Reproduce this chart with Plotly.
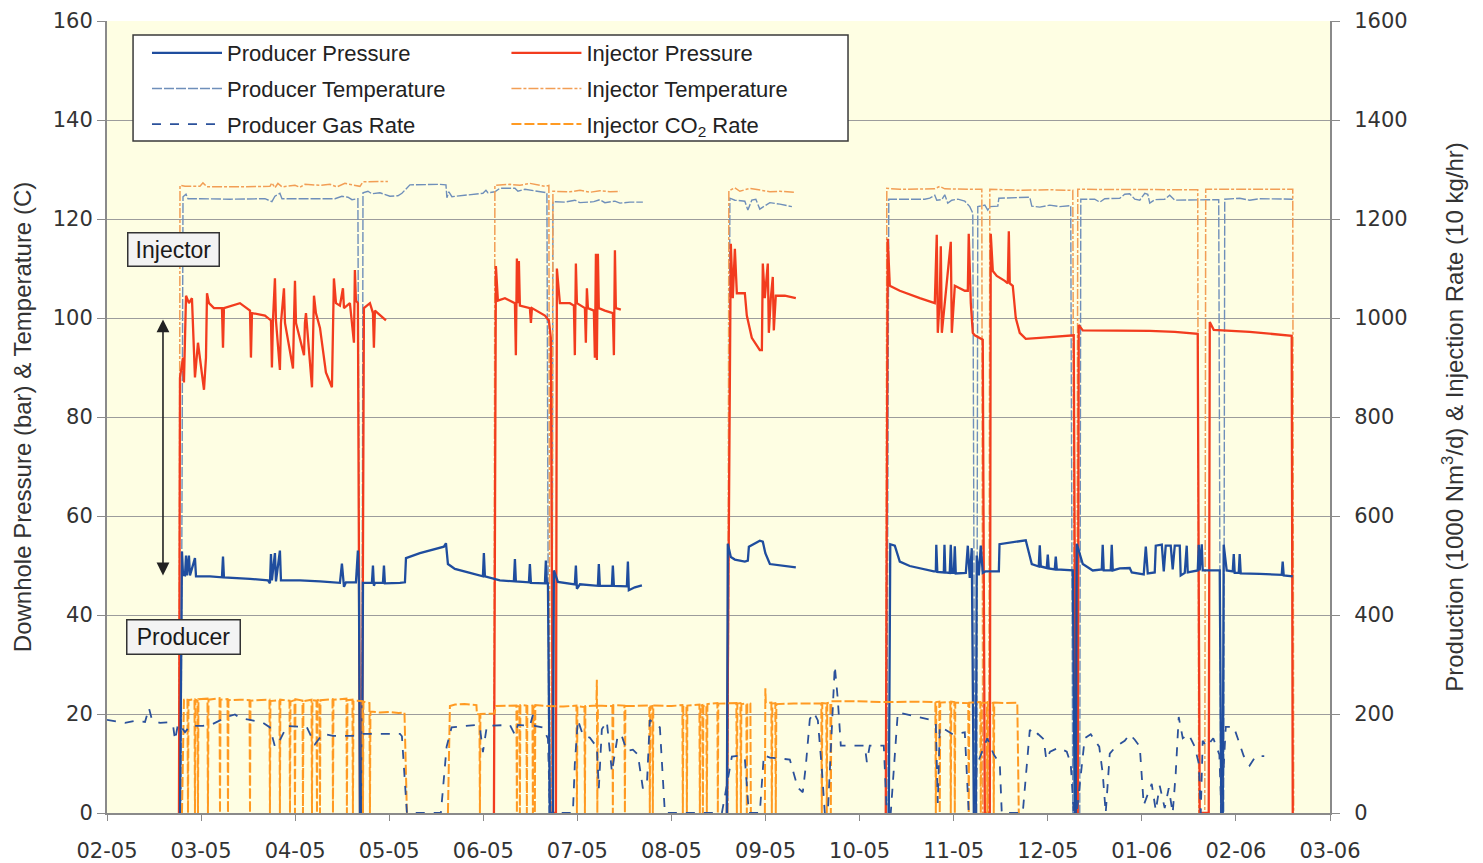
import plotly.graph_objects as go

# ---------------- axis labels ----------------
month_labels = ["02-05", "03-05", "04-05", "05-05", "06-05", "07-05", "08-05",
                "09-05", "10-05", "11-05", "12-05", "01-06", "02-06", "03-06"]
month_ticks = list(range(len(month_labels)))   # 0 = Feb 2005 (time in months)

# ---------------- Injector pressure (bar) ----------------
inj_p_t = [0.765, 0.776, 0.808, 0.818, 0.840, 0.871, 0.903, 0.935, 0.967, 0.999, 1.031, 1.052, 1.063, 1.084,
           1.137, 1.222, 1.233, 1.243, 1.413, 1.520, 1.530, 1.541, 1.679, 1.743, 1.753, 1.764, 1.785, 1.796,
           1.838, 1.849, 1.881, 1.892, 1.977, 1.987, 1.998, 2.009, 2.094, 2.104, 2.115, 2.179, 2.189, 2.200,
           2.221, 2.264, 2.327, 2.391, 2.412, 2.434, 2.476, 2.508, 2.519, 2.582, 2.625, 2.635, 2.646, 2.667,
           2.689, 2.710, 2.731, 2.795, 2.827, 2.837, 2.848, 2.901, 2.965, None,
           4.113, 4.134, 4.155, 4.230, 4.336, 4.346, 4.357, 4.368, 4.378, 4.389, 4.495, 4.506, 4.517, 4.655,
           4.697, 4.718, 4.740, 4.772, 4.782, 4.814, 4.920, 4.963, 4.973, 4.984, 4.995, 5.080, 5.090, 5.101,
           5.112, 5.175, 5.186, 5.197, 5.207, 5.218, 5.228, 5.292, 5.377, 5.388, 5.399, 5.409, 5.462, None,
           6.589, 6.631, 6.652, 6.674, 6.695, 6.780, 6.801, 6.854, 6.939, 6.961, 6.971, 6.992, 7.024, 7.035,
           7.056, 7.077, 7.088, 7.109, 7.205, 7.322, None,
           8.278, 8.299, 8.321, 8.427, 8.640, 8.799, 8.820, 8.831, 8.852, 8.863, 8.874, 8.905, 8.969, 8.980,
           9.012, 9.118, 9.150, 9.160, 9.182, 9.203, 9.224, 9.309, 9.331, 9.384, 9.394, 9.416, 9.458, 9.543,
           9.575, 9.586, 9.596, 9.628, 9.660, 9.702, 9.766, 9.915, 10.276, 10.298, 10.319, 10.329, 10.372,
           11.084, 11.350, 11.594, 11.615, 11.711, 11.722, 11.764, 12.146, 12.593, 12.604]
inj_p_v = [0, 88, 92, 87, 104.5, 103, 104, 88, 95, 90, 85.5, 92, 105, 103,
           102, 102, 94, 102, 103, 101.5, 92, 101, 100.5, 99.5, 90, 99.5, 108, 99.5,
           89.5, 99, 106, 99, 89.8, 99, 107.5, 99, 92.5, 99, 101, 86, 100, 104.5,
           101, 98, 89, 86, 108, 103, 102.5, 106, 102, 103, 95, 109.7, 103.5, 103,
           0, 0, 102, 103, 101, 94, 101.5, 100.5, 99.5, None,
           0, 110.5, 103.5, 104, 103, 92.5, 112, 103, 111.5, 102.5, 102, 99, 102, 100.5,
           99.5, 96, 0, 0, 110, 103, 103, 102.5, 92.5, 111, 103, 102, 95, 106,
           102, 101.5, 92, 113, 91.5, 113, 102, 101.5, 101, 92.5, 113.7, 102, 101.7, None,
           0, 115, 104, 114, 105, 105, 100.5, 96, 93.5, 93.5, 111, 104, 111, 97,
           104, 108.3, 97.5, 104.5, 104.5, 104, None,
           0, 116, 106.5, 105.5, 104, 103, 116.8, 97, 104, 114.5, 97, 103.5, 115.4, 97,
           106.5, 105.5, 105.5, 117, 103, 97, 96.5, 95.6, 0, 0, 117, 109.5, 108.5, 107.5,
           107, 117.5, 107, 106.5, 100, 97, 95.8, 96, 96.5, 0, 0, 98.6, 97.5,
           97.4, 97.2, 96.8, 0, 0, 99.2, 97.6, 97.2, 96.4, 0]

# ---------------- Injector temperature (C) ----------------
inj_temp_t = [0.765, 0.776, 0.829, 0.988, 1.020, 1.063, 1.413, 1.732, 1.753, 1.785, 1.817, 1.860, 1.998,
              2.051, 2.104, 2.264, 2.370, 2.444, 2.529, 2.635, 2.689, 2.721, 2.986, None,
              4.113, 4.123, 4.283, 4.389, 4.495, 4.655, 4.697, 4.708, 4.729, 4.740, 4.920, 5.027, 5.133,
              5.239, 5.345, 5.452, None,
              6.599, 6.610, 6.674, 6.727, 6.833, 6.939, 7.046, 7.152, 7.301, None,
              8.278, 8.289, 8.427, 8.640, 8.799, 8.852, 8.905, 9.171, 9.299, 9.309, 9.373, 9.384, 9.702,
              10.021, 10.266, 10.287, 10.308, 10.319, 10.765, 11.190, 11.594, 11.605, 11.669, 11.679,
              12.146, 12.604, 12.614]
inj_temp_v = [0, 126.8, 126.6, 126.6, 127.3, 126.5, 126.5, 126.6, 127.3, 126.3, 127.2, 126.5, 126.8,
              126.4, 127, 126.8, 127, 126.5, 127.2, 126.8, 126.6, 127.5, 127.6, None,
              0, 126.8, 127, 126.8, 127.2, 126.6, 126.8, 0, 0, 125.6, 125.5, 125.8, 125.4,
              125.7, 125.5, 125.6, None,
              0, 125.7, 126.3, 125.6, 126.2, 125.8, 125.5, 125.6, 125.4, None,
              0, 126.2, 126, 126, 126.1, 126.6, 126.1, 126, 126, 0, 0, 126, 125.8,
              125.9, 125.8, 0, 0, 126, 126, 126, 125.9, 0, 0, 126,
              126, 126, 0]

# ---------------- Producer temperature (C) ----------------
prod_temp_t = [0.786, 0.808, 0.840, 0.861, 0.988, 1.307, 1.679, 1.753, 1.785, 1.838, 1.860, 2.051, 2.423,
               2.497, 2.561, 2.604, 2.667, 2.689, 2.710, 2.721, 2.774, 2.816, 2.901, 3.007, 3.092, 3.135,
               3.220, 3.539, 3.603, 3.613, 3.634, 3.666, 3.858, 3.996, 4.028, 4.049, 4.123, 4.176, 4.336,
               4.368, 4.442, 4.548, 4.676, 4.697, 4.729, 4.740, 4.867, 4.973, 5.027, 5.175, 5.239, 5.292,
               5.399, 5.452, 5.558, 5.696, None,
               6.599, 6.621, 6.674, 6.780, 6.812, 6.854, 6.897, 6.939, 6.971, 7.046, 7.152, 7.280, None,
               8.289, 8.310, 8.427, 8.693, 8.746, 8.799, 8.820, 8.874, 8.905, 8.937, 8.980, 9.044, 9.118,
               9.171, 9.203, 9.224, 9.245, 9.256, 9.331, 9.362, 9.384, 9.469, 9.480, 9.809, 9.830, 9.915,
               10.021, 10.128, 10.244, 10.266, 10.340, 10.351, 10.499, 10.553, 10.606, 10.765, 10.818,
               10.871, 10.925, 10.978, 11.031, 11.063, 11.084, 11.137, 11.243, 11.296, 11.350, 11.562,
               11.615, 11.743, 11.817, 11.838, 11.870, 11.881, 12.040, 12.146, 12.253, 12.604]
prod_temp_v = [0, 124.5, 125, 124.1, 124.1, 124, 124.1, 123.5, 124.6, 125.2, 124.1, 124.1, 124.1,
               124.6, 124.4, 123.9, 124.1, 0, 0, 125.3, 125.6, 125.1, 125.3, 124.6, 124.7, 125.2,
               126.9, 127, 126.9, 124.3, 125.5, 124.5, 124.9, 125.2, 125.8, 125.3, 125.5, 126.2, 126.2,
               125.6, 126, 125.7, 125.3, 0, 0, 123.5, 123.4, 123.8, 123.3, 123.5, 123.9, 123.3,
               123.6, 123.2, 123.4, 123.4, None,
               0, 124.2, 123.8, 123.6, 121.8, 123.8, 124, 122, 122.4, 123.3, 123, 122.5, None,
               0, 124, 124, 124, 124.2, 124.8, 123.8, 123.9, 124.9, 123.2, 123.8, 124, 123.6,
               122.5, 121.2, 0, 0, 122.5, 122.8, 121.8, 122.5, 122.6, 124.2, 124.4, 122.6, 122.4,
               122.8, 122.5, 122.7, 0, 0, 124, 124, 123.4, 124.1, 124.2, 125,
               125.1, 124, 123.8, 125.2, 125, 123.2, 123.9, 124, 124.8, 123.8, 123.9,
               123.8, 124, 123.9, 0, 0, 124, 124.2, 123.8, 124.1, 124]

# ---------------- Producer pressure (bar) ----------------
prod_p_t = [0.776, 0.797, 0.808, 0.829, 0.840, 0.850, 0.871, 0.882, 0.935, 0.946, 1.095, 1.222, 1.233, 1.243,
            1.520, 1.711, 1.732, 1.743, 1.753, 1.785, 1.796, 1.838, 1.849, 2.051, 2.264, 2.476, 2.497, 2.519,
            2.540, 2.646, 2.667, 2.678, 2.689, 2.710, 2.721, 2.816, 2.827, 2.837, 2.848, 2.933, 2.944, 2.954,
            3.114, 3.167, 3.178, 3.326, 3.581, 3.603, 3.624, 3.698, 3.858, 3.996, 4.006, 4.017, 4.176, 4.325,
            4.336, 4.346, 4.485, 4.495, 4.506, 4.655, 4.665, 4.676, 4.687, 4.708, 4.740, 4.750, 4.793, 4.920,
            4.973, 4.984, 4.995, 5.027, 5.218, 5.228, 5.239, 5.367, 5.377, 5.388, 5.526, 5.537, 5.547, 5.611,
            5.686, None,
            6.589, 6.599, 6.631, 6.674, 6.780, 6.812, 6.823, 6.886, 6.939, 6.971, 6.998, 7.046, 7.205, 7.322,
            None,
            8.310, 8.326, 8.374, 8.427, 8.533, 8.640, 8.789, 8.810, 8.815, 8.826, 8.895, 8.902, 8.911, 8.958,
            8.969, 8.980, 9.001, 9.012, 9.022, 9.129, 9.150, 9.171, 9.192, 9.214, 9.235, 9.245, 9.267, 9.288,
            9.309, 9.336, 9.480, 9.487, 9.766, 9.830, 9.904, 9.915, 9.926, 9.989, 10.000, 10.011, 10.074,
            10.085, 10.096, 10.266, 10.287, 10.298, 10.308, 10.372, 10.478, 10.574, 10.584, 10.595, 10.669,
            10.680, 10.691, 10.765, 10.871, 10.893, 11.020, 11.042, 11.063, 11.137, 11.148, 11.212, 11.233,
            11.254, 11.307, 11.328, 11.350, 11.403, 11.413, 11.456, 11.477, 11.488, 11.594, 11.605, 11.615,
            11.637, 11.647, 11.743, 11.828, 11.845, 11.860, 11.870, 11.902, 11.966, 11.977, 11.987, 12.030,
            12.040, 12.051, 12.253, 12.487, 12.497, 12.508, 12.604]
prod_p_v = [0, 52.8, 48.1, 48, 52, 48, 52, 48, 51.5, 47.8, 47.8, 47.6, 51.8, 47.6,
            47.3, 47, 46.4, 52.3, 47, 52.5, 46.8, 53, 47, 47, 46.8, 46.5, 50.4, 45.7,
            46.6, 46.6, 53, 46.5, 0, 0, 46.5, 46.5, 50, 45.9, 46.5, 46.5, 50, 46.4,
            46.5, 46.6, 51.5, 52.5, 53.8, 54.5, 50.3, 49.3, 48.5, 47.8, 52.5, 47.8, 47, 46.8,
            51.3, 46.8, 46.6, 50.3, 46.5, 46.4, 51, 46.4, 46.4, 0, 0, 49, 46.7, 46.3,
            46.2, 50, 45.3, 46.2, 45.9, 50.3, 45.9, 45.9, 50, 45.9, 45.8, 50.8, 45, 45.6,
            46, None,
            0, 54.4, 51.7, 51.2, 50.8, 51, 53.8, 54.4, 55, 54.8, 52.5, 50.3, 49.9, 49.6,
            None,
            0, 54.3, 54, 50.8, 49.9, 49.4, 48.8, 48.8, 54.2, 48.7, 48.6, 54.2, 48.6, 48.5,
            54.2, 48.5, 48.5, 53.9, 48.4, 48.5, 54, 47.5, 53.5, 0, 0, 52, 48, 54,
            48.5, 48.8, 48.8, 54.3, 55.1, 50.3, 49.8, 54.1, 49.8, 49.5, 52.2, 49.4, 49.2,
            51.8, 49.2, 49, 0, 0, 54.4, 50.3, 49, 49.2, 54.2, 49, 49,
            54.2, 49, 49.4, 49.5, 48.6, 48.2, 53.8, 48.4, 48.6, 54, 54.2, 48.8,
            54, 54, 49.2, 54, 54, 48, 48.5, 54, 48.6, 49, 54.2, 49,
            54.3, 49, 49, 49, 0, 0, 54.2, 49, 48.8, 52.3, 48.5, 48.5,
            52.3, 48.4, 48.3, 48.1, 50.8, 48, 47.8]

# ---------------- Producer gas rate (1000 Nm3/d) ----------------
gas_t = [0.000, 0.085, 0.191, 0.298, 0.404, 0.446, 0.478, 0.563, 0.648, 0.701, 0.723, 0.755, 0.786, 0.829,
         0.882, 0.935, 1.020, 1.126, 1.275, 1.360, 1.413, 1.520, 1.658, 1.732, 1.785, 1.838, 1.913, 2.051,
         2.125, 2.210, 2.295, 2.402, 2.614, 2.721, 3.114, 3.135, 3.188, 3.549, 3.610, 3.663, 3.804, 3.932,
         3.964, 3.996, 4.038, 4.283, 4.336, 4.368, 4.495, 4.527, 4.548, 4.633, 4.687, 4.708, 4.952, 4.973,
         5.005, 5.058, 5.133, 5.207, 5.228, 5.260, 5.313, 5.367, 5.430, 5.473, 5.526, 5.590, 5.643, 5.696,
         5.739, 5.770, 5.845, 5.877, 5.930, 6.536, 6.642, 6.727, 6.780, 6.823, 6.939, 6.982, 7.046, 7.258,
         7.343, 7.396, 7.428, 7.471, 7.513, 7.556, 7.598, 7.630, 7.662, 7.736, 7.768, 7.800, 8.055, 8.077,
         8.108, 8.257, 8.289, 8.331, 8.406, 8.533, 8.767, 8.810, 8.831, 8.852, 8.990, 9.118, 9.160, 9.224,
         9.245, 9.357, 9.426, 9.490, 9.511, 9.734, 9.809, 9.862, 9.894, 9.957, 9.984, 10.025, 10.114,
         10.202, 10.244, 10.276, 10.308, 10.393, 10.457, 10.547, 10.584, 10.616, 10.659, 10.723, 10.818,
         10.871, 10.925, 10.978, 11.020, 11.105, 11.148, 11.190, 11.243, 11.286, 11.328, 11.360, 11.392,
         11.435, 11.498, 11.562, 11.605, 11.626, 11.647, 11.690, 11.759, 11.824, 11.845, 11.892, 11.977,
         12.019, 12.083, 12.146, 12.210, 12.301]
gas_v = [188, 185, 182, 186, 184, 212, 188, 182, 183, 179, 147, 180, 175, 163,
         176, 176, 176, 180, 194, 199, 192, 188, 182, 173, 134, 147, 176, 174,
         173, 139, 160, 156, 156, 160, 160, 155, 0, 0, 134, 173, 176, 178,
         173, 123, 176, 178, 158, 178, 176, 198, 176, 173, 150, 0, 0, 100,
         188, 158, 152, 133, 50, 169, 185, 83, 158, 155, 125, 128, 118, 50,
         57, 188, 176, 173, 0, 0, 114, 116, 110, 0, 0, 117, 112, 108,
         51, 42, 95, 190, 203, 187, 90, 0, 0, 297, 230, 136, 136, 103,
         136, 136, 0, 0, 203, 198, 188, 180, 20, 175, 159, 163, 0, 0,
         96, 151, 118, 100, 0, 0, 168, 155, 160, 149, 108, 124, 132,
         124, 100, 0, 0, 151, 159, 134, 80, 0, 120, 134, 146,
         159, 148, 134, 16, 59, 5, 55, 10, 50, 0, 80, 194,
         151, 159, 134, 100, 0, 146, 134, 151, 118, 0, 174, 174,
         151, 115, 96, 115, 115]

# ---------------- Injector CO2 rate (10 kg/hr) ----------------
co2_t = [0.797, 0.818, 0.855, 0.861, 0.866, 0.930, 0.935, 0.940, 0.962, 0.967, 0.972, 1.068, 1.073, 1.079,
         1.196, 1.201, 1.207, 1.281, 1.286, 1.291, 1.413, 1.515, 1.520, 1.525, 1.727, 1.732, 1.737, 1.833,
         1.838, 1.843, 1.940, 1.945, 1.950, 1.993, 1.998, 2.003, 2.078, 2.083, 2.088, 2.174, 2.179, 2.184,
         2.227, 2.232, 2.237, 2.259, 2.264, 2.269, 2.397, 2.402, 2.407, 2.545, 2.550, 2.556, 2.609, 2.614,
         2.620, 2.716, 2.721, 2.726, 2.790, 2.795, 2.800, 2.900, 3.000, 3.100, 3.162, 3.188, None,
         3.624, 3.645, 3.700, 3.800, 3.927, 3.932, 3.959, 3.964, 3.969, 4.118, 4.134, 4.352, 4.357, 4.362,
         4.384, 4.389, 4.394, 4.458, 4.463, 4.468, 4.522, 4.527, 4.532, 4.543, 4.548, 4.553, 4.700, 4.850,
         4.990, 4.995, 5.000, 5.075, 5.080, 5.085, 5.202, 5.207, 5.212, 5.218, 5.372, 5.377, 5.382, 5.500,
         5.505, 5.510, 5.765, 5.770, 5.775, 5.797, 5.802, 5.807, 6.000, 6.116, 6.121, 6.126, 6.159, 6.164,
         6.169, 6.297, 6.302, 6.307, 6.329, 6.334, 6.339, 6.371, 6.376, 6.382, 6.488, 6.493, 6.498, 6.690,
         6.695, 6.700, 6.733, 6.738, 6.743, 6.796, 6.801, 6.806, 6.839, 6.844, None,
         6.993, 6.998, 7.003, 7.062, 7.067, 7.072, 7.104, 7.109, 7.115, 7.300, 7.500, 7.593, 7.598, 7.603,
         7.646, 7.651, 7.656, 7.689, 7.694, 7.699, 7.900, 8.100, 8.300, 8.600, 8.805, 8.810, 8.815, 8.847,
         8.852, 8.857, 8.964, 8.969, 8.974, 9.007, 9.012, 9.017, 9.155, 9.160, 9.166, 9.283, 9.288, 9.293,
         9.352, 9.357, 9.362, 9.421, 9.426, 9.431, 9.550, 9.676, 9.692]
co2_v = [0, 229, 231, 0, 228, 230, 0, 229, 227, 0, 230, 231, 0, 229,
         232, 0, 229, 230, 0, 228, 229, 228, 0, 227, 229, 0, 226, 228,
         0, 229, 227, 0, 225, 228, 0, 230, 227, 0, 226, 229, 0, 228,
         227, 0, 229, 226, 0, 228, 230, 0, 229, 231, 0, 228, 229, 0,
         227, 226, 0, 225, 222, 0, 205, 203, 204, 202, 203, 0, None,
         0, 216, 219, 220, 218, 200, 199, 0, 200, 201, 216, 217, 0, 216,
         215, 0, 218, 217, 0, 216, 217, 0, 215, 216, 0, 218, 216, 215,
         217, 0, 216, 214, 0, 216, 217, 269, 0, 217, 216, 0, 218, 217,
         0, 216, 217, 0, 215, 216, 0, 217, 216, 218, 0, 216, 215, 0,
         217, 219, 0, 217, 218, 0, 216, 218, 0, 220, 222, 0, 221, 222,
         0, 221, 222, 0, 220, 221, 0, 222, 221, 0, None,
         0, 252, 222, 223, 0, 221, 222, 0, 220, 221, 222, 221, 0, 222,
         221, 0, 222, 223, 0, 226, 226, 225, 224, 225, 224, 0, 224, 225,
         0, 223, 224, 0, 225, 224, 0, 223, 222, 0, 223, 224, 0, 222,
         223, 0, 224, 222, 0, 223, 222, 223, 0]

# ---------------- figure ----------------
FONT = "Liberation Sans, Arial, sans-serif"
TICKFONT = dict(family="DejaVu Sans, Verdana, sans-serif", size=21, color="#333333")

fig = go.Figure()

fig.add_trace(go.Scatter(x=prod_temp_t, y=prod_temp_v, name="Producer Temperature", mode="lines",
                         line=dict(color="#6F8FBA", width=1.4, dash="10px,2px"),
                         legend="legend", legendrank=2, legendgroup="pt"))
fig.add_trace(go.Scatter(x=inj_temp_t, y=inj_temp_v, name="Injector Temperature", mode="lines",
                         line=dict(color="#F29E55", width=1.5, dash="10px,2px,3px,2px"),
                         legend="legend2", legendrank=2, legendgroup="it"))
fig.add_trace(go.Scatter(x=co2_t, y=co2_v, name="Injector CO<sub>2</sub> Rate", mode="lines",
                         line=dict(color="#FF9A22", width=2, dash="10px,3px"),
                         yaxis="y2", legend="legend2", legendrank=3, legendgroup="ir"))
fig.add_trace(go.Scatter(x=gas_t, y=gas_v, name="Producer Gas Rate", mode="lines",
                         line=dict(color="#2B519B", width=1.8, dash="dash"),
                         yaxis="y2", legend="legend", legendrank=3, legendgroup="pr"))
fig.add_trace(go.Scatter(x=inj_p_t, y=inj_p_v, name="Injector Pressure", mode="lines",
                         line=dict(color="#F23C1E", width=2.3),
                         legend="legend2", legendrank=1, legendgroup="ip"))
fig.add_trace(go.Scatter(x=prod_p_t, y=prod_p_v, name="Producer Pressure", mode="lines",
                         line=dict(color="#1F4D9E", width=2.3),
                         legend="legend", legendrank=1, legendgroup="pp"))

legend_common = dict(bgcolor="rgba(0,0,0,0)", borderwidth=0, font=dict(family=FONT, size=22, color="#222222"),
                     traceorder="grouped", tracegroupgap=4, itemwidth=70, yanchor="top", xanchor="left")

fig.update_layout(
    width=1483, height=863,
    margin=dict(l=107, r=153, t=21, b=50, autoexpand=False),
    paper_bgcolor="white", plot_bgcolor="#FEFEE3",
    showlegend=True,
    legend=dict(x=0.0327, y=0.986, **legend_common),
    legend2=dict(x=0.3266, y=0.986, **legend_common),
    xaxis=dict(range=[0, 13], tickmode="array", tickvals=month_ticks, ticktext=month_labels,
               ticks="outside", ticklen=6, tickcolor="#8A8A8A", showline=True, linecolor="#8A8A8A",
               linewidth=1.5, showgrid=False, zeroline=False, tickfont=TICKFONT, ticklabelstandoff=12,
               automargin=False),
    yaxis=dict(range=[0, 160], dtick=20, ticks="outside", ticklen=8, tickcolor="#8A8A8A",
               showline=True, linecolor="#8A8A8A", linewidth=2, showgrid=True, gridcolor="#9C9C9C",
               gridwidth=1.2, zeroline=False, tickfont=TICKFONT, automargin=False,
               title=dict(text="Downhole Pressure (bar) & Temperature (C)",
                          font=dict(family=FONT, size=24, color="#333333"), standoff=14)),
    yaxis2=dict(range=[0, 1600], dtick=200, overlaying="y", side="right", ticks="outside", ticklen=8,
                tickcolor="#8A8A8A", showline=True, linecolor="#8A8A8A", linewidth=2, showgrid=False,
                zeroline=False, tickfont=TICKFONT, ticklabelstandoff=10, automargin=False,
                title=dict(text="Production (1000 Nm<sup>3</sup>/d) & Injection Rate (10 kg/hr)",
                           font=dict(family=FONT, size=24, color="#333333"), standoff=40)),
    shapes=[dict(type="rect", xref="paper", yref="paper", x0=0.0213, x1=0.6059, y0=0.8485, y1=0.9823,
                 fillcolor="white", line=dict(color="#3A3A3A", width=1.5), layer="above")],
    annotations=[
        dict(x=0.595, y=48, ax=0.595, ay=100, xref="x", yref="y", axref="x", ayref="y", text="",
             showarrow=True, arrowside="end+start", arrowhead=2, startarrowhead=2, arrowsize=1.6,
             startarrowsize=1.6, arrowwidth=1.6, arrowcolor="#222222"),
        dict(x=0.712, y=113.9, xref="x", yref="y", text="Injector", showarrow=False,
             font=dict(family=FONT, size=23, color="#1A1A1A"), bgcolor="#F3F3F3",
             bordercolor="#333333", borderwidth=1.5, borderpad=2, width=86, height=28),
        dict(x=0.813, y=35.6, xref="x", yref="y", text="Producer", showarrow=False,
             font=dict(family=FONT, size=23, color="#1A1A1A"), bgcolor="#F3F3F3",
             bordercolor="#333333", borderwidth=1.5, borderpad=2, width=108, height=29),
    ],
)

fig.write_html("out.html")
